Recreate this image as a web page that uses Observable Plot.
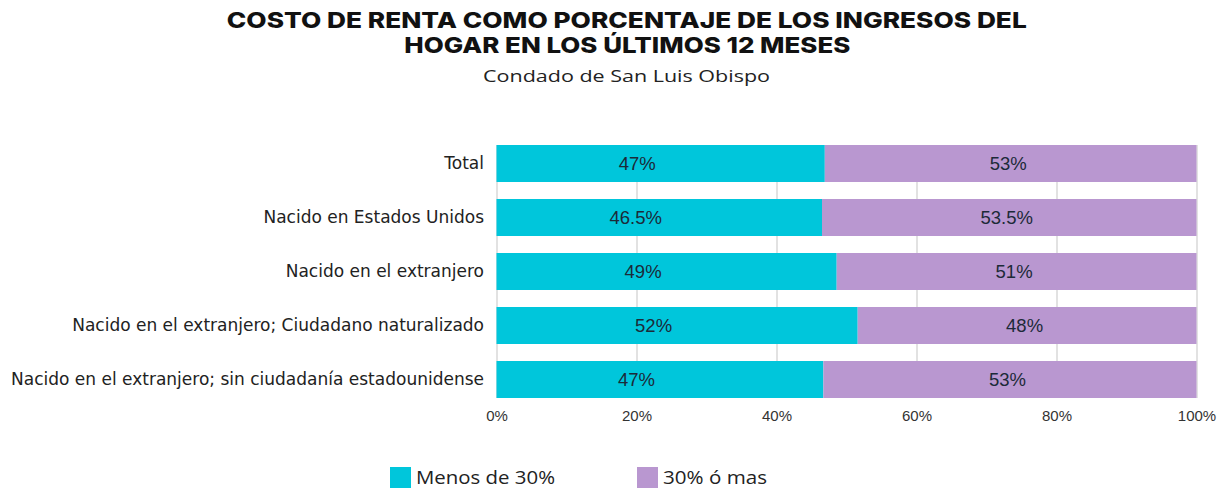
<!DOCTYPE html>
<html>
<head>
<meta charset="utf-8">
<script src="https://cdn.jsdelivr.net/npm/d3@7"></script>
<script src="https://cdn.jsdelivr.net/npm/@observablehq/plot@0.6"></script>
<style>
  html, body { margin: 0; padding: 0; background: #fff; }
  #wrap { position: relative; width: 1223px; height: 488px; overflow: hidden; font-family: "Open Sans", sans-serif; }
  .tline { position: absolute; left: 0; width: 1254px; text-align: center; font-family: Inter, sans-serif; font-weight: 800; font-size: 22px; line-height: 24px; color: #111; white-space: nowrap; }
  .tline span, #subtitle span { display: inline-block; transform-origin: 50% 50%; }
  #t1 { top: 8px; }
  #t2 { top: 33px; }
  #subtitle { position: absolute; top: 64px; left: 0; width: 1253px; text-align: center; font-family: "Open Sans", sans-serif; font-size: 17px; color: #222; white-space: nowrap; }
  #chart { position: absolute; top: 120px; left: 0; }
  .leg { position: absolute; top: 465px; display: flex; align-items: center; font-family: "Open Sans", sans-serif; font-size: 18px; color: #222; white-space: nowrap; }
  .leg span { display: inline-block; transform-origin: 0 50%; }
  .sw { width: 21px; height: 21px; margin-right: 5px; }
</style>
</head>
<body>
<div id="wrap">
  <div class="tline" id="t1"><span>COSTO DE RENTA COMO PORCENTAJE DE LOS INGRESOS DEL</span></div>
  <div class="tline" id="t2"><span>HOGAR EN LOS ÚLTIMOS 12 MESES</span></div>
  <div id="subtitle"><span>Condado de San Luis Obispo</span></div>
  <div id="chart"></div>
  <div id="legend"></div>
</div>
<script>
const categories = [
  "Total",
  "Nacido en Estados Unidos",
  "Nacido en el extranjero",
  "Nacido en el extranjero; Ciudadano naturalizado",
  "Nacido en el extranjero; sin ciudadanía estadounidense"
];
const seriesNames = ["Menos de 30%", "30% ó mas"];
const menosValues = [46.9, 46.5, 48.6, 51.6, 46.7];
const masValues = [53.1, 53.5, 51.4, 48.4, 53.3];
const menosLabels = ["47%", "46.5%", "49%", "52%", "47%"];
const masLabels = ["53%", "53.5%", "51%", "48%", "53%"];
const seriesColors = ["#00C6DB", "#B997D0"];
const xTicks = [0, 20, 40, 60, 80, 100];

const rows = [];
categories.forEach((c, i) => {
  rows.push({cat: c, series: seriesNames[0], value: menosValues[i], label: menosLabels[i]});
  rows.push({cat: c, series: seriesNames[1], value: masValues[i], label: masLabels[i]});
});

// pick a y-label size so the longest label spans the reference's width
const yFont = "'DejaVu Sans', sans-serif";
let ySize = 16.5;
try {
  const ctx = document.createElement("canvas").getContext("2d");
  ctx.font = "16px 'DejaVu Sans'";
  const w = Math.max(...categories.map(c => ctx.measureText(c).width));
  if (w > 0) ySize = Math.min(18, Math.max(14, 16 * 473 / w));
} catch (e) {}

const valueFont = "'Liberation Sans', Arial, sans-serif";
const chart = Plot.plot({
  width: 1223,
  height: 310,
  marginLeft: 496.5,
  marginRight: 26.5,
  marginTop: 25,
  marginBottom: 32,
  style: {fontFamily: "'Open Sans', sans-serif", fontSize: "16px", color: "#222", background: "transparent"},
  x: {domain: [0, 100], ticks: xTicks, tickFormat: d => d + "%"},
  y: {domain: categories, paddingInner: 0.315, paddingOuter: 0, label: null},
  color: {domain: seriesNames, range: seriesColors},
  marks: [
    Plot.gridX(xTicks, {stroke: "#cfcfcf", strokeOpacity: 1, strokeWidth: 1.2}),
    Plot.barX(rows, Plot.stackX({x: "value", y: "cat", fill: "series", order: seriesNames})),
    Plot.textX(rows, Plot.stackX({x: "value", y: "cat", z: "series", order: seriesNames, text: d => d.series === seriesNames[0] ? d.label : "", dx: -24, fill: "#1c2a38", fontSize: 18.5, fontFamily: valueFont})),
    Plot.textX(rows, Plot.stackX({x: "value", y: "cat", z: "series", order: seriesNames, text: d => d.series === seriesNames[1] ? d.label : "", dx: -3, fill: "#1c2a38", fontSize: 18.5, fontFamily: valueFont})),
    Plot.axisY({tickSize: 0, tickPadding: 13, label: null, fontSize: ySize, fontFamily: yFont, fill: "#222"}),
    Plot.axisX(xTicks, {tickSize: 0, tickPadding: 12, label: null, fontSize: 15, fill: "#333", fontFamily: valueFont, tickFormat: d => d + "%"})
  ]
});
document.getElementById("chart").appendChild(chart);

const legend = document.getElementById("legend");
const legLefts = [390, 637];
const legSpans = [];
seriesNames.forEach((s, i) => {
  const item = document.createElement("div");
  item.className = "leg";
  item.style.left = legLefts[i] + "px";
  const sw = document.createElement("div");
  sw.className = "sw";
  sw.style.background = seriesColors[i];
  const t = document.createElement("span");
  t.textContent = s;
  item.appendChild(sw);
  item.appendChild(t);
  legend.appendChild(item);
  legSpans.push(t);
});

// stretch header/legend text horizontally to match the reference's wide geometric typeface
function fitHTML(el, target) {
  el.style.transform = "none";
  const w = el.getBoundingClientRect().width;
  if (w > 0) el.style.transform = "scaleX(" + (target / w) + ")";
}
function fitAll() {
  fitHTML(document.querySelector("#t1 span"), 800);
  fitHTML(document.querySelector("#t2 span"), 446);
  fitHTML(document.querySelector("#subtitle span"), 287);
  fitHTML(legSpans[0], 139);
  fitHTML(legSpans[1], 104);
}
fitAll();
</script>
</body>
</html>
